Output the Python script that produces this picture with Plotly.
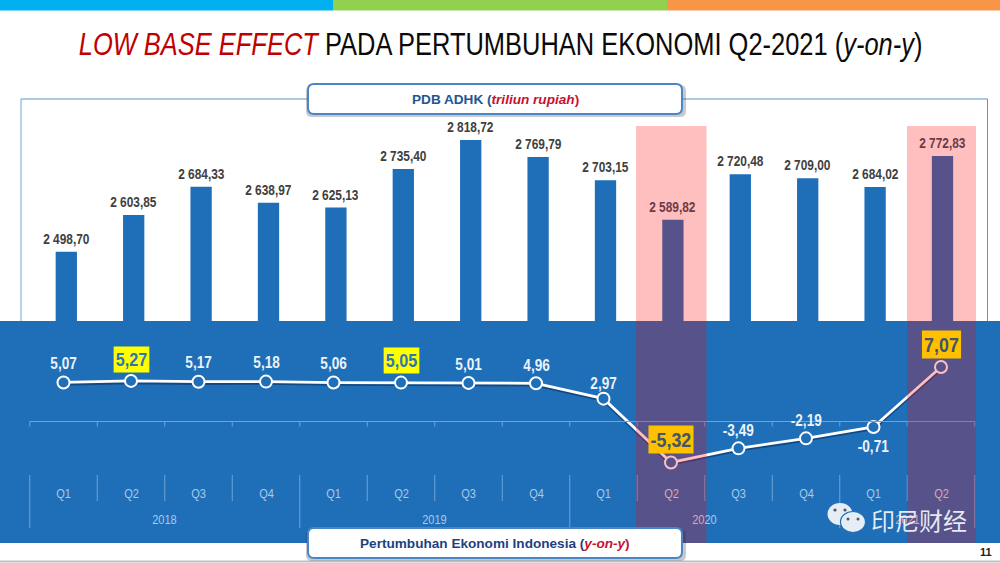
import plotly.graph_objects as go

# ---------- data ----------
quarters = ["Q1", "Q2", "Q3", "Q4", "Q1", "Q2", "Q3", "Q4", "Q1", "Q2", "Q3", "Q4", "Q1", "Q2"]
years = ["2018", "2019", "2020", "2021"]
year_spans = [4, 4, 4, 2]
gdp = [2498.70, 2603.85, 2684.33, 2638.97, 2625.13, 2735.40, 2818.72,
       2769.79, 2703.15, 2589.82, 2720.48, 2709.00, 2684.02, 2772.83]
gdp_labels = ["2 498,70", "2 603,85", "2 684,33", "2 638,97", "2 625,13", "2 735,40", "2 818,72",
              "2 769,79", "2 703,15", "2 589,82", "2 720,48", "2 709,00", "2 684,02", "2 772,83"]
growth = [5.07, 5.27, 5.17, 5.18, 5.06, 5.05, 5.01, 4.96, 2.97, -5.32, -3.49, -2.19, -0.71, 7.07]
growth_labels = ["5,07", "5,27", "5,17", "5,18", "5,06", "5,05", "5,01", "4,96", "2,97",
                 "-5,32", "-3,49", "-2,19", "-0,71", "7,07"]
pos = list(range(len(quarters)))

# ---------- style and placement ----------
W, H = 1000, 563
X0, DX = 63.5, 67.5
BX0, BDX = 66.3, 67.4
BLUE = "#1f6fb8"
NARROW = "Arial Narrow, Liberation Sans"
SANS = "Liberation Sans"
growth_yshift = [19, 21, 19, 19, 19, 22, 18, 18, 15, 23, 18, 18, -20, 23]
yellow_idx = {1, 5}
orange_idx = {9, 13}
pink_idx = {9, 13}
PINK_OVER = "rgba(255,0,0,0.25)"
PALE = "#a9c9e6"
PINK_TXT = "#e2a3b0"

x_range = [(0 - X0) / DX, (W - X0) / DX]
x2_range = [(0 - BX0) / BDX, (W - BX0) / BDX]
PX_BAR = 0.349
BAR_BASE, BAR_BASE_PX = 2300, 321
y_range = [BAR_BASE - (H - BAR_BASE_PX) / PX_BAR, BAR_BASE + BAR_BASE_PX / PX_BAR]
PX_G, G0_PX = 7.7, 421.5
y2_range = [(G0_PX + 1.5 - H) / PX_G, (G0_PX + 1.5) / PX_G]
y3_range = [(G0_PX - H) / PX_G, G0_PX / PX_G]

fig = go.Figure()
fig.add_bar(x=pos, y=[v - BAR_BASE for v in gdp], base=BAR_BASE, width=0.316,
            marker=dict(color=BLUE, line_width=0), xaxis="x2", yaxis="y", hoverinfo="skip")
fig.add_scatter(x=pos, y=growth, mode="lines", xaxis="x", yaxis="y2", hoverinfo="skip",
                line=dict(color="rgba(5,35,80,0.5)", width=3.5))
fig.add_scatter(x=pos, y=growth, mode="lines+markers", xaxis="x", yaxis="y3", hoverinfo="skip",
                line=dict(color="white", width=2.8),
                marker=dict(size=12, color=BLUE, line=dict(color="white", width=2)))


def rect(x0, y0, x1, y1, color, layer="below"):
    return dict(type="rect", xref="paper", yref="paper", x0=x0 / W, x1=x1 / W,
                y0=1 - y0 / H, y1=1 - y1 / H, fillcolor=color, layer=layer,
                line=dict(width=0))


def seg(x0, y0, x1, y1, color, width=1, layer="above"):
    return dict(type="line", xref="paper", yref="paper", x0=x0 / W, x1=x1 / W,
                y0=1 - y0 / H, y1=1 - y1 / H, layer=layer, line=dict(color=color, width=width))


def rbox(x0, y0, x1, y1, r, fill, line_color=None, lw=0):
    fx = lambda v: v / W
    fy = lambda v: 1 - v / H
    k = r
    path = (f"M {fx(x0+k)} {fy(y0)} L {fx(x1-k)} {fy(y0)} Q {fx(x1)} {fy(y0)} {fx(x1)} {fy(y0+k)} "
            f"L {fx(x1)} {fy(y1-k)} Q {fx(x1)} {fy(y1)} {fx(x1-k)} {fy(y1)} "
            f"L {fx(x0+k)} {fy(y1)} Q {fx(x0)} {fy(y1)} {fx(x0)} {fy(y1-k)} "
            f"L {fx(x0)} {fy(y0+k)} Q {fx(x0)} {fy(y0)} {fx(x0+k)} {fy(y0)} Z")
    return dict(type="path", xref="paper", yref="paper", path=path, fillcolor=fill,
                layer="above", line=dict(color=line_color or fill, width=lw))


def ell(cx, cy, rx, ry, fill, line=None):
    return dict(type="circle", xref="paper", yref="paper", x0=(cx - rx) / W, x1=(cx + rx) / W,
                y0=1 - (cy + ry) / H, y1=1 - (cy - ry) / H, fillcolor=fill, layer="above",
                line=line or dict(width=0))


shapes = [
    rect(0, 0, 333, 10.5, "#00b0f0"),
    rect(333, 0, 667, 10.5, "#92d050"),
    rect(667, 0, 1000, 10.5, "#f79646"),
    seg(21, 99, 21, 321, "#9dc3e6", 1.5, "below"),
    seg(21, 99, 308, 99, "#5b94cc", 1, "below"),
    seg(682, 99, 987.5, 99, "#5b94cc", 1, "below"),
    seg(987.5, 99, 987.5, 321, "#5b94cc", 1, "below"),
    rect(0, 321, 1000, 543, BLUE),
    seg(0, 561.5, 1000, 561.5, "#bfbfbf", 2, "below"),
]

# quarter axis and separators
LINE = "#6fa3d4"
shapes.append(seg(X0 - DX / 2, G0_PX, X0 + 13.5 * DX, G0_PX, LINE))
for i in range(len(quarters) + 1):
    xb = X0 + (i - 0.5) * DX
    shapes.append(seg(xb, G0_PX, xb, G0_PX + 5, LINE))
    shapes.append(seg(xb, 475, xb, 501, LINE))
k = 0
for s in year_spans:
    xb = X0 + (k - 0.5) * DX
    shapes.append(seg(xb, 501, xb, 528, LINE))
    k += s
xb = X0 + (k - 0.5) * DX
shapes.append(seg(xb, 501, xb, 528, LINE))

# overlays above bars and line
shapes += [rect(636, 126, 706.5, 543, PINK_OVER, "above"),
           rect(907, 126, 976, 543, PINK_OVER, "above")]

# callout boxes with soft shadow
for (y0, y1) in [(84, 114), (528, 558)]:
    shapes.append(rbox(306, y0 + 1, 686, y1 + 3, 6, "rgba(30,40,60,0.25)"))
    shapes.append(rbox(308, y0, 682, y1, 6, "white", "#4a86c5", 2))

# watermark icon
shapes += [
    ell(840, 514, 12.5, 11, "#e6edf5"),
    ell(853, 522, 12.5, 10.5, "#e6edf5", dict(color=BLUE, width=1.2)),
    ell(835, 510, 1.6, 1.6, "#4b5a6a"), ell(845, 510, 1.6, 1.6, "#4b5a6a"),
    ell(848, 519, 1.5, 1.5, "#4b5a6a"), ell(858, 519, 1.5, 1.5, "#4b5a6a"),
]

ann = []


def page_text(px, py, text, size, color="#000", family=NARROW):
    ann.append(dict(xref="paper", yref="paper", x=px / W, y=1 - py / H, text=text, showarrow=False,
                    xanchor="center", yanchor="middle",
                    font=dict(size=size, color=color, family=family)))


page_text(500, 45,
          '<span style="color:#c00000"><i>LOW BASE EFFECT</i></span> PADA PERTUMBUHAN EKONOMI Q2-2021 (<i>y-on-y</i>)',
          31, "#0a0a0a")
page_text(495.5, 99, '<b>PDB ADHK (</b><b style="color:#c8102e"><i>triliun rupiah</i></b><b style="color:#c8102e">)</b>',
          13.6, "#1f5596", SANS)
page_text(495, 543, '<b>Pertumbuhan Ekonomi Indonesia (</b><b style="color:#c8102e"><i>y-on-y</i></b><b style="color:#c8102e">)</b>',
          13.6, "#1f3f7f", SANS)
page_text(986, 552, "<b>11</b>", 11, "#222", SANS)

for i, t in zip(pos, gdp_labels):
    col = "#6e3a44" if i in pink_idx else "#404040"
    ann.append(dict(x=i, y=gdp[i], xref="x2", yref="y", text=f"<b>{t}</b>", showarrow=False,
                    yanchor="middle", yshift=13,
                    font=dict(size=14, color=col, family=NARROW)))

for i, t in zip(pos, growth_labels):
    a = dict(x=i, y=growth[i], xref="x", yref="y3", text=f"<b>{t}</b>", showarrow=False,
             yanchor="middle", yshift=growth_yshift[i])
    if i in yellow_idx:
        a.update(bgcolor="#ffff00", borderpad=2, font=dict(size=19, color="#2e75b6", family=NARROW))
    elif i in orange_idx:
        a.update(bgcolor="#ffc000", borderpad=2, font=dict(size=21, color="#44546a", family=NARROW))
    else:
        a.update(font=dict(size=16, color="#eaf2fa", family=NARROW))
    ann.append(a)

for i, q in zip(pos, quarters):
    ann.append(dict(x=i, y=1 - 493 / H, xref="x", yref="paper", yanchor="middle", showarrow=False,
                    text=q, font=dict(size=13, family=NARROW,
                                      color=PINK_TXT if i in pink_idx else PALE)))

k = 0
for yr, s in zip(years, year_spans):
    cx = k + (s - 1) / 2
    txt = f'<span style="color:{PINK_TXT}">20</span>20' if yr == "2020" else yr
    col = PINK_TXT if yr == "2021" else PALE
    ann.append(dict(x=cx, y=1 - 519 / H, xref="x", yref="paper", yanchor="middle", showarrow=False,
                    text=txt, font=dict(size=13, family=NARROW, color=col)))
    k += s

page_text(919, 519, "印尼财经", 24, "rgba(240,244,250,0.95)", "Noto Sans CJK SC")

fig.update_layout(
    width=W, height=H, margin=dict(l=0, r=0, t=0, b=0), showlegend=False,
    paper_bgcolor="white", plot_bgcolor="rgba(0,0,0,0)", barmode="overlay",
    xaxis=dict(range=x_range, visible=False, domain=[0, 1]),
    xaxis2=dict(range=x2_range, visible=False, domain=[0, 1], overlaying="x"),
    yaxis=dict(range=y_range, visible=False, domain=[0, 1]),
    yaxis2=dict(range=y2_range, visible=False, domain=[0, 1], overlaying="y"),
    yaxis3=dict(range=y3_range, visible=False, domain=[0, 1], overlaying="y"),
    shapes=shapes, annotations=ann,
)

# Squeeze texts set in the narrow face (no condensed font is installed).
squeeze = """
document.body.style.margin='0';document.body.style.overflow='hidden';
document.querySelectorAll('.annotation-text-g').forEach(function(g){
  var t=g.querySelector('text'); if(!t) return;
  var ff=t.style.fontFamily||''; if(ff.indexOf('Narrow')<0) return;
  var p=t.parentNode;
  var b=p.getBBox(); var cx=b.x+b.width/2;
  var s=(t.textContent.indexOf('LOW BASE')===0)?844/t.getBBox().width:0.85;
  var old=p.getAttribute('transform')||'';
  p.setAttribute('transform',old+' translate('+cx+',0) scale('+s+',1) translate('+(-cx)+',0)');
});
"""
fig.write_html("out.html", config={"displayModeBar": False}, post_script=squeeze)
